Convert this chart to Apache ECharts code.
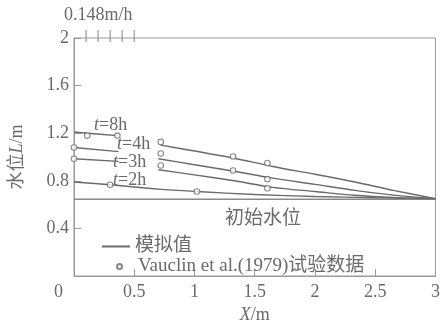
<!DOCTYPE html>
<html>
<head>
<meta charset="utf-8">
<script src="https://cdn.jsdelivr.net/npm/echarts@6/dist/echarts.min.js"></script>
<style>
  html, body { margin: 0; padding: 0; background: #fff; }
  #main { width: 443px; height: 329px; }
</style>
</head>
<body>
<div id="main"></div>
<script>
(function () {
    var font = '"Liberation Serif", "Noto Sans CJK SC", serif';
    var grey = '#6a6a6a';

    // 模拟值 (null = 曲线在标注处断开)
    var sim8hX = [0, 0.11, 0.36, 0.5, 0.72, 1.0, 1.33, 1.65, 2.0, 2.33, 2.65, 3.0];
    var sim8hY = [1.21, 1.20, 1.18, null, 1.10, 1.05, 0.99, 0.92, 0.855, 0.79, 0.72, 0.65];
    var sim4hX = [0, 0.37, 0.5, 0.70, 1.0, 1.33, 1.65, 2.0, 2.33, 2.65, 3.0];
    var sim4hY = [1.08, 1.045, null, 0.985, 0.935, 0.88, 0.822, 0.77, 0.72, 0.68, 0.65];
    var sim3hX = [0, 0.37, 0.5, 0.70, 1.0, 1.33, 1.65, 2.0, 2.33, 2.65, 3.0];
    var sim3hY = [0.985, 0.963, null, 0.893, 0.85, 0.80, 0.745, 0.71, 0.678, 0.66, 0.65];
    var sim2hX = [0, 0.30, 0.70, 1.02, 1.5, 2.0, 2.5, 3.0];
    var sim2hY = [0.79, 0.767, 0.73, 0.71, 0.685, 0.668, 0.658, 0.65];

    // Vauclin et al.(1979) 试验数据
    var obsX = [0.11, 0.36, 0.72, 1.32, 1.605, 0, 0.72, 1.32, 1.605, 0, 0.72, 1.605, 0.30, 1.02];
    var obsY = [1.18, 1.18, 1.127, 1.004, 0.95, 1.08, 1.03, 0.887, 0.814, 0.985, 0.928, 0.737, 0.767, 0.71];

    var initialLevel = 0.645;
    var rainTicks = [0.1, 0.2, 0.3, 0.4, 0.5];
    var yTicks = [0, 0.4, 0.8, 1.2, 1.6, 2];
    var xTicks = [0, 0.5, 1, 1.5, 2, 2.5, 3];

    var simName = '模拟值';
    var obsName = 'Vauclin et al.(1979)试验数据';

    function pairs(xs, ys) {
        return xs.map(function (x, i) { return [x, ys[i] == null ? '-' : ys[i]]; });
    }

    function simSeries(xs, ys) {
        return {
            name: simName,
            type: 'line',
            data: pairs(xs, ys),
            smooth: 0.3,
            symbol: 'none',
            connectNulls: false,
            lineStyle: { color: grey, width: 1.4 },
            itemStyle: { color: grey },
            z: 2
        };
    }

    function tLabel(txt, left, top) {
        return {
            type: 'text', left: left, top: top,
            style: {
                text: '{i|t}=' + txt, font: '18px ' + font, fill: grey,
                rich: { i: { fontStyle: 'italic', font: 'italic 18px ' + font, fill: grey } }
            }
        };
    }

    var myChart = echarts.init(document.getElementById('main'));
    myChart.setOption({
        animation: false,
        backgroundColor: '#fff',
        textStyle: { fontFamily: font, color: grey },
        grid: {
            left: 68, right: 7, top: 38, bottom: 46,
            show: true, borderColor: '#9a9a9a', borderWidth: 1
        },
        legend: [
            {
                data: [{ name: simName, icon: 'rect' }],
                left: 97, top: 232,
                itemWidth: 28, itemHeight: 2,
                textStyle: { fontFamily: font, fontSize: 19, color: grey }
            },
            {
                data: [{ name: obsName, icon: 'circle' }],
                left: 111, top: 252,
                itemWidth: 5, itemHeight: 5,
                textStyle: { fontFamily: font, fontSize: 19, color: grey, padding: [0, 0, 0, 11] }
            }
        ],
        xAxis: {
            type: 'value',
            min: xTicks[0], max: xTicks[xTicks.length - 1], interval: 0.5,
            name: '{i|X}/m',
            nameLocation: 'middle',
            nameGap: 30,
            nameTextStyle: {
                fontFamily: font, fontSize: 18, color: grey,
                rich: { i: { fontStyle: 'italic', fontFamily: font, fontSize: 18, color: grey } }
            },
            axisLine: { lineStyle: { color: '#9a9a9a' } },
            axisTick: { inside: true, length: 7, lineStyle: { color: '#9a9a9a' } },
            axisLabel: {
                fontSize: 18, color: grey, margin: 7,
                formatter: function (v) { return v === 0 ? '' : String(v); }
            },
            splitLine: { show: false }
        },
        yAxis: {
            type: 'value',
            min: yTicks[0], max: yTicks[yTicks.length - 1], interval: 0.4,
            name: '水位{i|L}/m',
            nameLocation: 'middle',
            nameGap: 48,
            nameRotate: 90,
            nameTextStyle: {
                fontFamily: font, fontSize: 18, color: grey,
                rich: { i: { fontStyle: 'italic', fontFamily: font, fontSize: 18, color: grey } }
            },
            axisLine: { lineStyle: { color: '#9a9a9a' } },
            axisTick: { inside: true, length: 7, lineStyle: { color: '#9a9a9a' } },
            axisLabel: {
                fontSize: 18, color: grey, margin: 5,
                formatter: function (v) { return v === 0 ? '' : String(+v.toFixed(1)); }
            },
            splitLine: { show: false }
        },
        series: [
            simSeries(sim8hX, sim8hY),
            simSeries(sim4hX, sim4hY),
            simSeries(sim3hX, sim3hY),
            simSeries(sim2hX, sim2hY),
            {
                name: 'initial',
                type: 'line',
                data: [[xTicks[0], initialLevel], [xTicks[xTicks.length - 1], initialLevel]],
                symbol: 'none',
                lineStyle: { color: '#8a8a8a', width: 1.4 },
                z: 1
            },
            {
                name: obsName,
                type: 'scatter',
                data: pairs(obsX, obsY),
                symbol: 'circle',
                symbolSize: 5.5,
                itemStyle: { color: '#fff', borderColor: grey, borderWidth: 1.1 },
                z: 3
            },
            {
                name: 'rain',
                type: 'scatter',
                data: rainTicks.map(function (x) { return [x, yTicks[yTicks.length - 1]]; }),
                symbol: 'rect',
                symbolSize: [1.3, 12],
                symbolOffset: [0, -2],
                clip: false,
                itemStyle: { color: '#8a8a8a' },
                silent: true
            }
        ],
        graphic: [
            { type: 'text', left: 54, top: 283, style: { text: '0', font: '18px ' + font, fill: grey } },
            { type: 'text', left: 64, top: 6, style: { text: '0.148m/h', font: '18px ' + font, fill: grey } },
            { type: 'text', left: 225, top: 210, style: { text: '初始水位', font: '19px ' + font, fill: grey } },
            tLabel('8h', 94, 116),
            tLabel('4h', 117, 135),
            tLabel('3h', 113, 153),
            tLabel('2h', 113, 171)
        ]
    });
})();
</script>
</body>
</html>
